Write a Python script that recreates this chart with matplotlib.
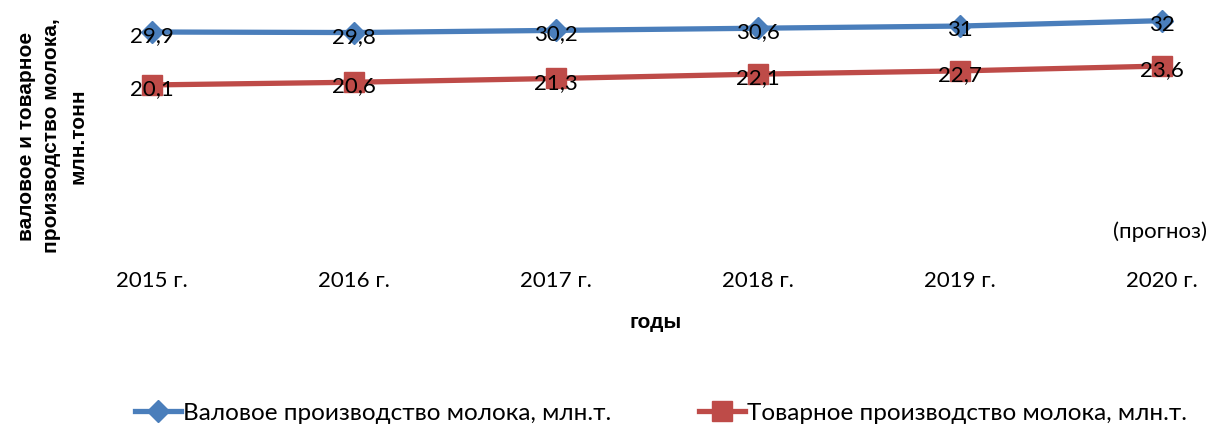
import matplotlib
matplotlib.use('Agg')
import matplotlib.pyplot as plt

years = ["2015 г.", "2016 г.", "2017 г.", "2018 г.", "2019 г.", "2020 г."]
gross = [29.9, 29.8, 30.2, 30.6, 31, 32]
market = [20.1, 20.6, 21.3, 22.1, 22.7, 23.6]
gross_labels = ["29,9", "29,8", "30,2", "30,6", "31", "32"]
market_labels = ["20,1", "20,6", "21,3", "22,1", "22,7", "23,6"]

plt.rcParams['font.family'] = ['Lato', 'Noto Sans', 'DejaVu Sans']

W, H = 1216, 430
fig = plt.figure(figsize=(W / 100, H / 100), dpi=100)
ax = fig.add_axes([125 / W, 1 - 261 / H, (1190 - 125) / W, (261 - 5) / H])

x = list(range(len(years)))
blue = '#4a7ebb'
red = '#be4b48'
ax.plot(x, gross, color=blue, lw=3.8, marker='D', ms=11, label="Валовое производство молока, млн.т.")
ax.plot(x, market, color=red, lw=3.8, marker='s', ms=14, label="Товарное производство молока, млн.т.")

for i in x:
    ax.annotate(gross_labels[i], (i, gross[i]), xytext=(0, -3), textcoords='offset points',
                ha='center', va='center', fontsize=16)
    ax.annotate(market_labels[i], (i, market[i]), xytext=(0, -3), textcoords='offset points',
                ha='center', va='center', fontsize=16)

ax.set_xlim(-27 / 202, 5 + 28 / 202)
ax.set_ylim(-12.5, 34.9)
ax.set_xticks(x)
ax.set_xticklabels(years, fontsize=16)
ax.tick_params(axis='x', length=0, pad=7)
ax.set_yticks([])
for s in ax.spines.values():
    s.set_visible(False)

fig.text(1160 / W, 1 - 232 / H, "(прогноз)", ha='center', va='center', fontsize=16)
fig.text(656 / W, 1 - 322 / H, "годы", ha='center', va='center', fontsize=15,
         fontweight='bold', family=['Liberation Sans', 'DejaVu Sans'])
fig.text(52 / W, 1 - 136 / H, "валовое и товарное\nпроизводство молока,\nмлн.тонн",
         rotation=90, ha='center', va='center', multialignment='center', fontsize=15,
         fontweight='bold', family=['Liberation Sans', 'DejaVu Sans'], linespacing=1.45)

fig.legend(loc='center', bbox_to_anchor=(661 / W, 1 - 413 / H), ncol=2, frameon=False,
           fontsize=17.5, handlelength=1.9, handletextpad=0.1, columnspacing=3.6)

fig.savefig('out.png', dpi=100)
